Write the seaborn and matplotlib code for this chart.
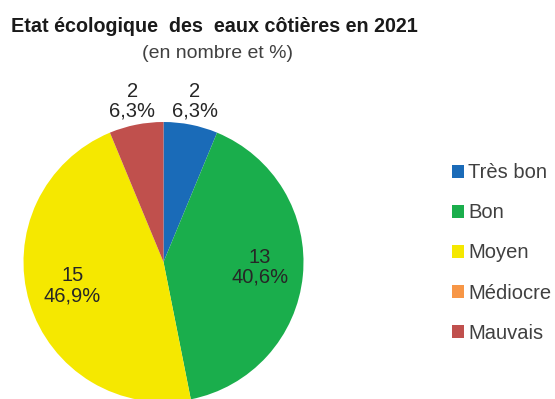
import numpy as np
import matplotlib
matplotlib.use("Agg")
import matplotlib.pyplot as plt
import seaborn as sns
from matplotlib.patches import Patch
from decimal import Decimal, ROUND_HALF_UP

categories = ["Très bon", "Bon", "Moyen", "Médiocre", "Mauvais"]
counts = [2, 13, 15, 0, 2]
colors = ["#1a6bb8", "#1aae4c", "#f5e800", "#f79646", "#c0504d"]

sns.set_theme(style="white")
plt.rcParams["font.family"] = ["Liberation Sans", "DejaVu Sans"]

W, H = 555, 399
fig = plt.figure(figsize=(W / 100, H / 100), dpi=100)
ax = fig.add_axes([0, 0, 1, 1])

cx, cy, r = 163.5, H - 262, 140
palette = sns.color_palette(colors)
wedges, _ = ax.pie(counts, colors=palette, startangle=90, counterclock=False,
                   center=(cx, cy), radius=r, wedgeprops=dict(linewidth=0))

total = sum(counts)


def pct_text(n):
    v = Decimal(100 * n) / Decimal(total)
    return str(v.quantize(Decimal("0.1"), rounding=ROUND_HALF_UP)).replace(".", ",") + "%"


# radial distance of each label, as a fraction of the radius
label_dist = [1.14, 0.69, 0.68, 1.14, 1.14]
lift = 4
for w, n, d in zip(wedges, counts, label_dist):
    if n == 0:
        continue
    ang = np.deg2rad((w.theta1 + w.theta2) / 2)
    ax.text(cx + d * r * np.cos(ang), cy + d * r * np.sin(ang) + lift,
            f"{n}\n{pct_text(n)}", ha="center", va="center", fontsize=14.5,
            color="#262626", linespacing=1.05)

ax.set_xlim(0, W)
ax.set_ylim(0, H)
ax.set_aspect("auto")
ax.axis("off")

fig.text(214, H - 32, "Etat écologique  des  eaux côtières en 2021", transform=None,
         ha="center", va="baseline", fontsize=14.2, fontweight="bold", color="#1a1a1a")
fig.text(217, H - 58, "(en nombre et %)", transform=None,
         ha="center", va="baseline", fontsize=14, color="#404040")

handles = [Patch(facecolor=c, edgecolor="none") for c in palette]
leg = fig.legend(handles, categories, loc="center left",
                 bbox_to_anchor=(452 / W, (H - 253) / H), frameon=False,
                 fontsize=14.5, labelcolor="#404040", handlelength=0.6, handleheight=0.6,
                 handletextpad=0.2, labelspacing=1.05, borderpad=0, borderaxespad=0)

fig.savefig("out.png", dpi=100)
